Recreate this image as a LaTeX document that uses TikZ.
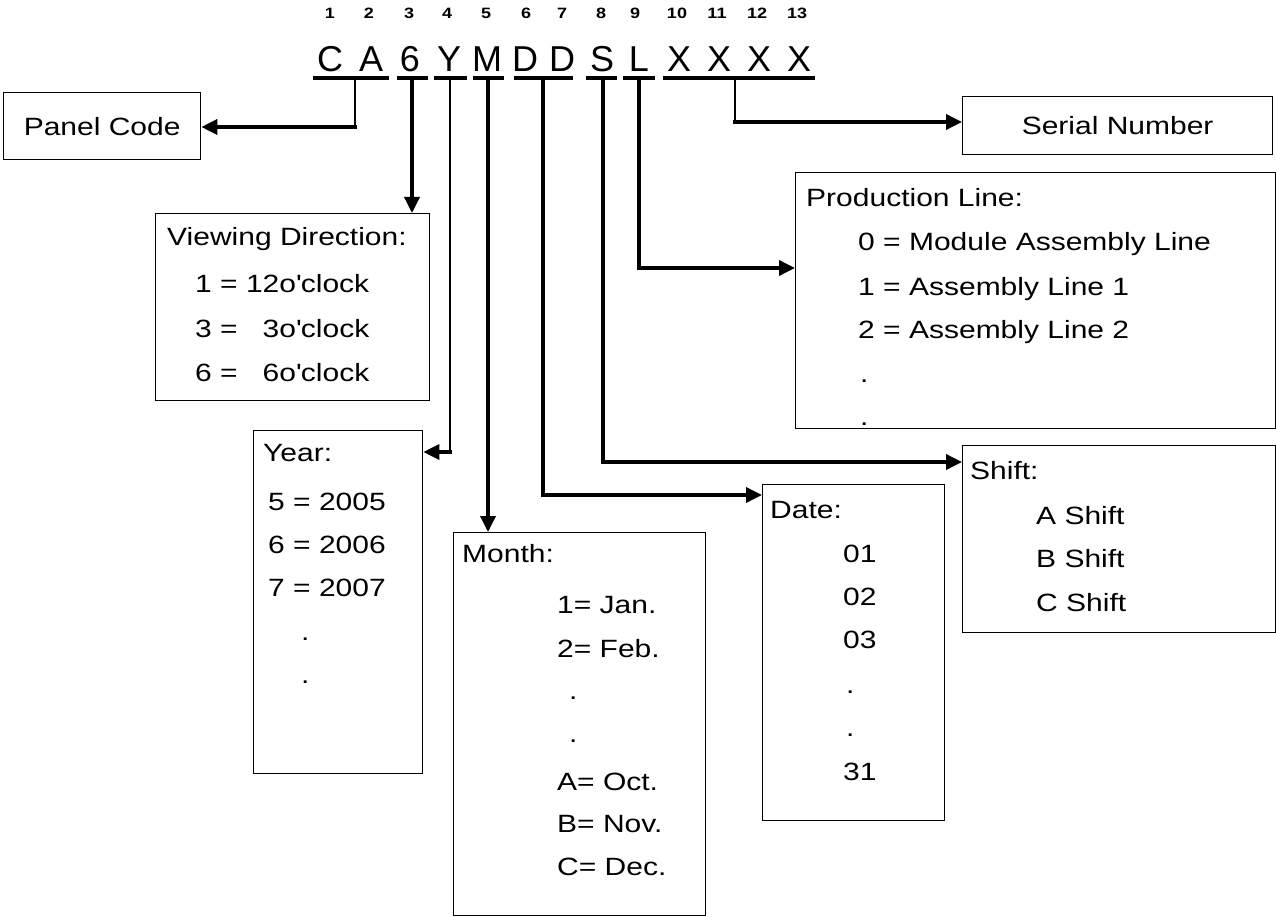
\documentclass[tikz,border=0pt]{standalone}
\usepackage{fontspec}
\setmainfont{Liberation Sans}[FakeStretch=1.2]
\newfontfamily\codefont{Liberation Sans}
\usetikzlibrary{arrows.meta}
\begin{document}
\begin{tikzpicture}[x=1pt,y=-1pt,
  box/.style={draw, line width=1.3pt, anchor=north west, inner sep=0pt,
    font=\fontsize{25}{30}\selectfont},
  txt/.style={anchor=base west, inner sep=0pt, font=\fontsize{25}{30}\selectfont},
  numlbl/.style={anchor=base, inner sep=0pt, font=\fontsize{15}{18}\selectfont\bfseries},
  letter/.style={anchor=base, inner sep=0pt, font=\codefont\fontsize{36}{40}\selectfont},
  uline/.style={line width=3.5pt},
  thinline/.style={line width=1.5pt},
  conn/.style={line width=3.5pt, line cap=rect, -{Triangle[length=16pt,width=15pt]}}]
\useasboundingbox (0,0) rectangle (1276,917);

% code characters and their positions
\foreach \i/\x in {1/330,2/369,3/409,4/447,5/486,6/526,7/562,8/601,9/635,10/677,11/717,12/757,13/797}
  \node[numlbl] (n\i) at (\x,19) {\i};
\foreach \i/\x/\c in {1/330/C,2/371/A,3/410/6,4/449/Y,5/487/M,6/525/D,7/562/D,8/602/S,9/639/L,10/679/X,11/719/X,12/759/X,13/799/X}
  \node[letter] (l\i) at (\x,72) {\c};

% underlines
\draw[uline] (313,78) -- (389,78);
\draw[uline] (397,78) -- (428,78);
\draw[uline] (434,78) -- (467,78);
\draw[uline] (473,78) -- (504,78);
\draw[uline] (514,78) -- (573,78);
\draw[uline] (586,78) -- (617,78);
\draw[uline] (623,78) -- (655,78);
\draw[uline] (663,78) -- (815,78);

% boxes
\node[box, minimum width=197pt, minimum height=67pt] (panel) at (3,92) {Panel Code};
\node[box, minimum width=310pt, minimum height=58pt] (serial) at (962,96) {Serial Number};
\node[box, minimum width=274pt, minimum height=187pt] (viewing) at (155,213) {};
\node[box, minimum width=169pt, minimum height=343pt] (year) at (253,430) {};
\node[box, minimum width=252pt, minimum height=383pt] (month) at (453,532) {};
\node[box, minimum width=182pt, minimum height=336pt] (date) at (762,484) {};
\node[box, minimum width=313pt, minimum height=187pt] (shift) at (962,445) {};
\node[box, minimum width=480pt, minimum height=256pt] (prod) at (795,172) {};

% box texts
\node[txt] (vd0) at (167,246) {Viewing Direction:};
\node[txt] (vd1) at (195,292) {1 = 12o\textquotesingle clock};
\node[txt] (vd2) at (195,337) {3 = \phantom{1}3o\textquotesingle clock};
\node[txt] (vd3) at (195,381) {6 = \phantom{1}6o\textquotesingle clock};

\node[txt] (y0) at (263,461) {Year:};
\node[txt] (y1) at (268,510) {5 = 2005};
\node[txt] (y2) at (268,553) {6 = 2006};
\node[txt] (y3) at (268,596) {7 = 2007};
\node[txt] (y4) at (301,640) {.};
\node[txt] (y5) at (301,683) {.};

\node[txt] (m0) at (462,562) {Month:};
\node[txt] (m1) at (557,613) {1= Jan.};
\node[txt] (m2) at (557,657) {2= Feb.};
\node[txt] (m3) at (569,699) {.};
\node[txt] (m4) at (569,742) {.};
\node[txt] (m5) at (557,790) {A= Oct.};
\node[txt] (m6) at (557,832) {B= Nov.};
\node[txt] (m7) at (557,875) {C= Dec.};

\node[txt] (d0) at (770,518) {Date:};
\node[txt] (d1) at (843,562) {01};
\node[txt] (d2) at (843,605) {02};
\node[txt] (d3) at (843,648) {03};
\node[txt] (d4) at (846,693) {.};
\node[txt] (d5) at (846,736) {.};
\node[txt] (d6) at (843,780) {31};

\node[txt] (s0) at (970,479) {Shift:};
\node[txt] (s1) at (1036,524) {A Shift};
\node[txt] (s2) at (1036,567) {B Shift};
\node[txt] (s3) at (1036,611) {C Shift};

\node[txt] (p0) at (806,207) {Production Line:};
\node[txt] (p1) at (858,251) {0 = Module Assembly Line};
\node[txt] (p2) at (858,295) {1 = Assembly Line 1};
\node[txt] (p3) at (858,338) {2 = Assembly Line 2};
\node[txt] (p4) at (860,382) {.};
\node[txt] (p5) at (860,425) {.};

% tap points on the underlines and turning points
\coordinate (tCA) at (355,78);
\coordinate (t6) at (412,78);
\coordinate (tY) at (450,78);
\coordinate (tM) at (488,78);
\coordinate (tDD) at (543,78);
\coordinate (tS) at (603,78);
\coordinate (tL) at (639,78);
\coordinate (tX) at (735,78);
\coordinate (kCA) at (355,127);
\coordinate (kY) at (450,452);
\coordinate (kDD) at (543,495);
\coordinate (kS) at (603,462);
\coordinate (kL) at (639,268);
\coordinate (kX) at (735,122);

% connectors
\draw[thinline] (tCA) -- (kCA);
\draw[conn] (kCA) -- (kCA -| panel.east);
\draw[conn] (t6) -- (t6 |- viewing.north);
\draw[thinline] (tY) -- (kY);
\draw[conn] (kY) -- (kY -| year.east);
\draw[conn] (tM) -- (tM |- month.north);
\draw[conn] (tDD) -- (kDD) -- (kDD -| date.west);
\draw[conn] (tS) -- (kS) -- (kS -| shift.west);
\draw[conn] (tL) -- (kL) -- (kL -| prod.west);
\draw[thinline] (tX) -- (kX);
\draw[conn] (kX) -- (kX -| serial.west);
\end{tikzpicture}
\end{document}
